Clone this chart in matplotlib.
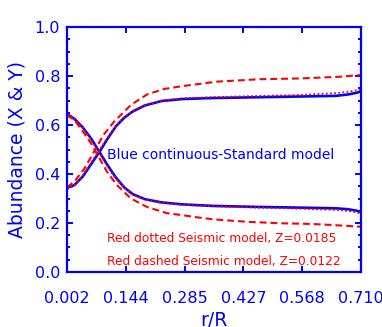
import matplotlib
matplotlib.use("Agg")
import matplotlib.pyplot as plt
from matplotlib.ticker import MultipleLocator

# r/R grid for the standard model (blue) and the dotted seismic model
r_std = [0.002, 0.02, 0.04, 0.06, 0.08, 0.10, 0.12, 0.14, 0.16, 0.19, 0.23,
         0.28, 0.35, 0.45, 0.55, 0.65, 0.68, 0.70, 0.71]
X_std = [0.343, 0.355, 0.39, 0.44, 0.49, 0.545, 0.595, 0.63, 0.655, 0.68, 0.698,
         0.706, 0.71, 0.713, 0.716, 0.719, 0.725, 0.732, 0.738]
Y_std = [0.644, 0.625, 0.59, 0.545, 0.49, 0.435, 0.385, 0.345, 0.318, 0.297, 0.284,
         0.276, 0.27, 0.266, 0.263, 0.26, 0.256, 0.25, 0.245]

X_dot = [0.338, 0.352, 0.395, 0.447, 0.497, 0.55, 0.598, 0.633, 0.657, 0.682, 0.70,
         0.709, 0.714, 0.718, 0.722, 0.73, 0.736, 0.742, 0.748]
Y_dot = [0.648, 0.628, 0.59, 0.54, 0.485, 0.43, 0.38, 0.342, 0.316, 0.295, 0.282,
         0.274, 0.268, 0.263, 0.259, 0.253, 0.249, 0.243, 0.238]

# dashed seismic model, Z=0.0122
r_dsh = [0.002, 0.02, 0.043, 0.06, 0.075, 0.09, 0.115, 0.156, 0.195, 0.236, 0.281,
         0.363, 0.467, 0.563, 0.659, 0.708]
X_dsh = [0.345, 0.37, 0.42, 0.47, 0.515, 0.56, 0.613, 0.682, 0.725, 0.747, 0.759,
         0.777, 0.787, 0.79, 0.797, 0.804]
r_dshY = [0.002, 0.02, 0.043, 0.06, 0.075, 0.098, 0.122, 0.156, 0.195, 0.243, 0.28,
          0.32, 0.354, 0.435, 0.515, 0.594, 0.659, 0.708]
Y_dsh = [0.64, 0.62, 0.567, 0.525, 0.48, 0.41, 0.355, 0.30, 0.265, 0.24, 0.232,
         0.222, 0.215, 0.205, 0.199, 0.196, 0.19, 0.185]

xticks = [0.002, 0.144, 0.285, 0.427, 0.568, 0.710]
xticklabels = ["0.002", "0.144", "0.285", "0.427", "0.568", "0.710"]

blue = "#0000ff"
red = "#ff0000"

fig = plt.figure(figsize=(3.82, 3.27), dpi=100)
ax = fig.add_axes([0.1754, 0.1682, 0.7696, 0.7492])

ax.plot(r_std, X_std, color=blue, lw=1.9)
ax.plot(r_std, Y_std, color=blue, lw=1.9)
ax.plot(r_std, X_dot, color=red, lw=1.3, linestyle=(0, (1, 1.3)))
ax.plot(r_std, Y_dot, color=red, lw=1.3, linestyle=(0, (1, 1.3)))
ax.plot(r_dsh, X_dsh, color=red, lw=1.5, linestyle=(0, (3.3, 1.9)))
ax.plot(r_dshY, Y_dsh, color=red, lw=1.5, linestyle=(0, (3.3, 1.9)))

ax.set_xlim(0.002, 0.710)
ax.set_ylim(0.0, 1.0)
ax.set_xticks(xticks)
ax.set_xticklabels(xticklabels)
ax.yaxis.set_major_locator(MultipleLocator(0.2))
ax.yaxis.set_minor_locator(MultipleLocator(0.05))
ax.yaxis.set_major_formatter(plt.FormatStrFormatter("%.1f"))

for s in ax.spines.values():
    s.set_color(blue)
    s.set_linewidth(1.6)
ax.tick_params(axis="both", which="both", direction="in", colors=blue,
               top=True, right=True, width=1.4, labelsize=11.5)
ax.tick_params(axis="both", which="major", length=4.5)
ax.tick_params(axis="both", which="minor", length=2.5)
ax.tick_params(axis="x", pad=14)
ax.tick_params(axis="y", pad=5)

ax.set_ylabel("Abundance (X & Y)", color=blue, fontsize=13.5, labelpad=6)
ax.set_xlabel("r/R", color=blue, fontsize=13.5, labelpad=3)

ax.text(0.098, 0.478, "Blue continuous-Standard model", color=blue,
        fontsize=10, ha="left", va="center")
ax.text(0.098, 0.135, "Red dotted Seismic model, Z=0.0185", color=red,
        fontsize=8.8, ha="left", va="center")
ax.text(0.098, 0.041, "Red dashed Seismic model, Z=0.0122", color=red,
        fontsize=8.8, ha="left", va="center")

fig.savefig("out.png", dpi=100)
